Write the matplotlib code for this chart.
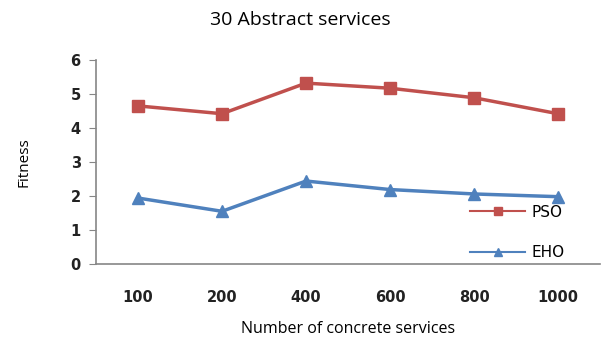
import matplotlib
matplotlib.use("Agg")
import matplotlib.pyplot as plt
import numpy as np

categories = ["100", "200", "400", "600", "800", "1000"]
pso = [4.65, 4.42, 5.32, 5.17, 4.89, 4.42]
eho = [1.94, 1.55, 2.44, 2.19, 2.06, 1.98]
yticks = [0, 1, 2, 3, 4, 5, 6]

fig = plt.figure(figsize=(6.05, 3.41), dpi=100)
ax = fig.add_axes([96 / 605, 1 - 264 / 341, 504 / 605, 204 / 341])

x = np.arange(len(categories))
red = "#C0504D"
blue = "#4F81BD"
ax.plot(x, pso, color=red, lw=2.5, marker="s", ms=8, label="PSO")
ax.plot(x, eho, color=blue, lw=2.5, marker="^", ms=8, label="EHO")

ax.set_xlim(-0.5, len(categories) - 0.5)
ax.set_ylim(0, 6)
ax.set_yticks(yticks)
ax.set_xticks(x)
ax.set_xticklabels(categories)

for s in ["top", "right"]:
    ax.spines[s].set_visible(False)
for s in ["left", "bottom"]:
    ax.spines[s].set_color("#868686")
    ax.spines[s].set_linewidth(1.2)
ax.tick_params(axis="y", length=5, color="#868686", labelsize=10.5, pad=6)
ax.tick_params(axis="x", length=0, labelsize=10.5, pad=19)
for lbl in ax.get_xticklabels() + ax.get_yticklabels():
    lbl.set_fontweight("bold")
    lbl.set_color("#222222")

ax.set_xlabel("Number of concrete services", fontsize=11.5, family="Open Sans", labelpad=11)
ax.set_ylabel("Fitness", fontsize=11, family="Open Sans", labelpad=28)
fig.text(0.497, 0.94, "30 Abstract services", ha="center", va="center",
         fontsize=14, family="Open Sans")

leg = ax.legend(loc="center left", bbox_to_anchor=(0.715, 0.155), frameon=False,
                fontsize=11, handlelength=3.6, labelspacing=1.65, handletextpad=0.4,
                markerscale=0.8)
for line in leg.get_lines():
    line.set_linewidth(1.5)

fig.savefig("out.png", dpi=100)
